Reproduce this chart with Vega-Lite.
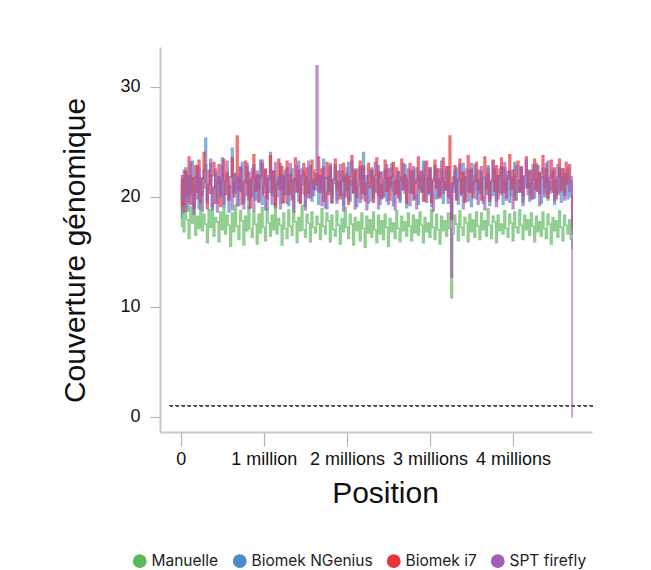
{
  "$schema": "https://vega.github.io/schema/vega-lite/v6.json",
  "width": 432,
  "height": 385,
  "autosize": {"type": "none"},
  "padding": {"left": 160, "top": 47, "right": 59, "bottom": 138},
  "background": "white",
  "config": {
    "view": {"stroke": null},
    "font": "Liberation Sans",
    "axis": {"grid": false, "domainColor": "#c8c8c8", "domainWidth": 2, "tickColor": "#b4b4b4", "tickWidth": 1.2, "labelFont": "Liberation Sans", "labelFontSize": 18, "labelColor": "#111", "titleFont": "Liberation Sans", "titleFontSize": 30, "titleFontWeight": "normal", "titleColor": "#111"}
  },
  "data": {"values": [
{"x":0,"M":17.3,"N":18.1,"I":19.2,"S":19.6},
{"x":20000,"M":19.4,"N":21.5,"I":21.9,"S":20.8},
{"x":40000,"M":16.8,"N":19.3,"I":18.6,"S":22.4},
{"x":60000,"M":18.7,"N":22.6,"I":22.3,"S":18.9},
{"x":80000,"M":17.9,"N":18.7,"I":20.1,"S":21.7},
{"x":100000,"M":16.2,"N":21.9,"I":23.6,"S":19.5},
{"x":120000,"M":19.1,"N":20.4,"I":19.3,"S":23.1},
{"x":140000,"M":17.6,"N":23.2,"I":21.7,"S":20.2},
{"x":160000,"M":18.9,"N":19.0,"I":18.9,"S":18.4},
{"x":180000,"M":16.5,"N":21.3,"I":22.8,"S":21.9},
{"x":200000,"M":18.2,"N":22.8,"I":20.4,"S":19.8},
{"x":220000,"M":17.1,"N":18.9,"I":23.3,"S":22.6},
{"x":240000,"M":19.6,"N":21.7,"I":19.5,"S":20.5},
{"x":260000,"M":16.9,"N":20.1,"I":21.6,"S":18.7},
{"x":280000,"M":18.4,"N":22.4,"I":24.0,"S":21.3},
{"x":300000,"M":17.5,"N":25.3,"I":20.8,"S":22.9},
{"x":320000,"M":15.8,"N":19.6,"I":18.9,"S":19.4},
{"x":340000,"M":18.8,"N":21.1,"I":22.4,"S":21.1},
{"x":360000,"M":17.2,"N":23.0,"I":20.3,"S":23.4},
{"x":380000,"M":19.3,"N":18.8,"I":21.9,"S":19.1},
{"x":400000,"M":16.4,"N":20.9,"I":23.1,"S":20.7},
{"x":420000,"M":18.1,"N":22.5,"I":19.4,"S":22.2},
{"x":440000,"M":17.7,"N":19.4,"I":21.2,"S":18.6},
{"x":460000,"M":15.9,"N":21.8,"I":22.9,"S":21.6},
{"x":480000,"M":18.6,"N":20.2,"I":19.1,"S":20.0},
{"x":500000,"M":17.0,"N":23.5,"I":21.5,"S":22.8},
{"x":520000,"M":19.0,"N":19.1,"I":23.4,"S":19.3},
{"x":540000,"M":16.6,"N":21.4,"I":20.2,"S":21.4},
{"x":560000,"M":18.3,"N":22.2,"I":22.1,"S":23.2},
{"x":580000,"M":17.4,"N":18.6,"I":19.7,"S":19.8},
{"x":600000,"M":15.5,"N":21.0,"I":21.8,"S":20.9},
{"x":620000,"M":18.5,"N":24.4,"I":23.5,"S":18.8},
{"x":640000,"M":16.8,"N":20.3,"I":20.0,"S":22.1},
{"x":660000,"M":19.2,"N":22.1,"I":21.3,"S":20.3},
{"x":680000,"M":17.3,"N":19.2,"I":25.5,"S":21.8},
{"x":700000,"M":16.1,"N":21.6,"I":20.7,"S":19.2},
{"x":720000,"M":18.7,"N":20.5,"I":22.6,"S":22.7},
{"x":740000,"M":17.8,"N":23.1,"I":19.3,"S":20.6},
{"x":760000,"M":15.6,"N":19.5,"I":21.4,"S":18.9},
{"x":780000,"M":18.2,"N":21.2,"I":23.2,"S":21.5},
{"x":800000,"M":16.9,"N":22.7,"I":20.1,"S":23.0},
{"x":820000,"M":19.1,"N":18.9,"I":22.2,"S":19.7},
{"x":840000,"M":17.1,"N":21.5,"I":19.0,"S":21.2},
{"x":860000,"M":16.3,"N":20.0,"I":21.7,"S":22.5},
{"x":880000,"M":18.6,"N":22.9,"I":23.8,"S":18.7},
{"x":900000,"M":17.5,"N":19.7,"I":20.5,"S":20.8},
{"x":920000,"M":15.7,"N":21.8,"I":22.0,"S":22.3},
{"x":940000,"M":18.4,"N":20.6,"I":19.6,"S":19.5},
{"x":960000,"M":16.7,"N":23.3,"I":21.9,"S":21.7},
{"x":980000,"M":19.0,"N":19.3,"I":23.0,"S":23.3},
{"x":1000000,"M":17.2,"N":21.0,"I":20.3,"S":20.1},
{"x":1020000,"M":16.0,"N":22.4,"I":22.5,"S":18.8},
{"x":1040000,"M":18.9,"N":18.8,"I":19.8,"S":21.9},
{"x":1060000,"M":17.6,"N":21.7,"I":21.6,"S":20.4},
{"x":1080000,"M":16.4,"N":24.0,"I":23.7,"S":22.6},
{"x":1100000,"M":18.3,"N":20.1,"I":20.4,"S":19.3},
{"x":1120000,"M":17.0,"N":22.3,"I":22.3,"S":21.4},
{"x":1140000,"M":19.4,"N":19.0,"I":19.2,"S":23.1},
{"x":1160000,"M":16.6,"N":21.4,"I":21.1,"S":20.0},
{"x":1180000,"M":18.0,"N":20.7,"I":23.4,"S":21.8},
{"x":1200000,"M":17.4,"N":23.0,"I":20.6,"S":18.9},
{"x":1220000,"M":15.6,"N":19.4,"I":22.7,"S":22.0},
{"x":1240000,"M":18.5,"N":21.9,"I":19.5,"S":20.6},
{"x":1260000,"M":17.1,"N":20.2,"I":21.8,"S":22.4},
{"x":1280000,"M":16.2,"N":22.6,"I":23.2,"S":19.4},
{"x":1300000,"M":18.8,"N":19.2,"I":20.2,"S":21.3},
{"x":1320000,"M":17.3,"N":21.3,"I":22.0,"S":23.0},
{"x":1340000,"M":16.5,"N":22.5,"I":19.7,"S":20.2},
{"x":1360000,"M":18.7,"N":18.9,"I":21.5,"S":18.6},
{"x":1380000,"M":17.7,"N":21.6,"I":23.5,"S":21.7},
{"x":1400000,"M":15.8,"N":20.4,"I":20.5,"S":22.8},
{"x":1420000,"M":18.1,"N":23.2,"I":22.4,"S":19.6},
{"x":1440000,"M":16.9,"N":19.5,"I":19.4,"S":21.1},
{"x":1460000,"M":19.2,"N":21.1,"I":21.9,"S":22.5},
{"x":1480000,"M":17.0,"N":22.2,"I":23.0,"S":20.3},
{"x":1500000,"M":16.3,"N":19.1,"I":20.1,"S":18.8},
{"x":1520000,"M":18.4,"N":21.8,"I":22.6,"S":21.6},
{"x":1540000,"M":17.6,"N":20.3,"I":19.9,"S":23.2},
{"x":1560000,"M":15.9,"N":22.8,"I":21.3,"S":19.9},
{"x":1580000,"M":18.6,"N":19.6,"I":23.3,"S":21.4},
{"x":1600000,"M":17.2,"N":21.5,"I":20.7,"S":20.1},
{"x":1620000,"M":16.7,"N":20.6,"I":22.2,"S":22.4},
{"x":1640000,"M":18.2,"N":22.0,"I":21.1,"S":31.9},
{"x":1660000,"M":17.5,"N":19.3,"I":23.6,"S":20.5},
{"x":1680000,"M":16.1,"N":21.9,"I":20.4,"S":21.9},
{"x":1700000,"M":18.9,"N":20.7,"I":22.5,"S":19.2},
{"x":1720000,"M":17.3,"N":23.4,"I":19.6,"S":22.7},
{"x":1740000,"M":16.6,"N":19.0,"I":21.7,"S":20.4},
{"x":1760000,"M":18.5,"N":21.7,"I":23.1,"S":18.9},
{"x":1780000,"M":17.8,"N":20.5,"I":20.2,"S":21.8},
{"x":1800000,"M":15.9,"N":22.6,"I":22.8,"S":23.0},
{"x":1820000,"M":18.3,"N":19.4,"I":19.5,"S":20.0},
{"x":1840000,"M":17.0,"N":21.2,"I":21.6,"S":21.5},
{"x":1860000,"M":16.4,"N":22.9,"I":23.4,"S":22.3},
{"x":1880000,"M":18.7,"N":19.7,"I":20.6,"S":19.4},
{"x":1900000,"M":17.4,"N":21.4,"I":22.3,"S":21.2},
{"x":1920000,"M":15.7,"N":20.1,"I":19.8,"S":22.9},
{"x":1940000,"M":18.0,"N":22.3,"I":21.4,"S":20.3},
{"x":1960000,"M":16.8,"N":19.2,"I":23.0,"S":18.7},
{"x":1980000,"M":19.0,"N":21.8,"I":20.0,"S":21.9},
{"x":2000000,"M":17.2,"N":20.6,"I":22.1,"S":22.6},
{"x":2020000,"M":16.2,"N":23.1,"I":19.3,"S":19.8},
{"x":2040000,"M":18.4,"N":19.6,"I":21.8,"S":21.0},
{"x":2060000,"M":17.5,"N":21.5,"I":23.7,"S":23.2},
{"x":2080000,"M":15.6,"N":20.3,"I":20.4,"S":20.6},
{"x":2100000,"M":18.1,"N":22.5,"I":22.4,"S":18.9},
{"x":2120000,"M":16.9,"N":19.1,"I":19.9,"S":21.7},
{"x":2140000,"M":17.7,"N":21.0,"I":21.5,"S":22.5},
{"x":2160000,"M":16.0,"N":22.7,"I":23.2,"S":19.5},
{"x":2180000,"M":18.5,"N":19.8,"I":20.3,"S":21.3},
{"x":2200000,"M":17.1,"N":24.0,"I":22.7,"S":22.8},
{"x":2220000,"M":15.4,"N":20.2,"I":19.6,"S":20.2},
{"x":2240000,"M":18.2,"N":21.9,"I":21.2,"S":18.8},
{"x":2260000,"M":16.7,"N":19.4,"I":23.0,"S":21.9},
{"x":2280000,"M":17.9,"N":21.3,"I":20.8,"S":22.4},
{"x":2300000,"M":16.3,"N":22.6,"I":22.4,"S":19.6},
{"x":2320000,"M":18.6,"N":19.9,"I":19.5,"S":21.5},
{"x":2340000,"M":17.0,"N":21.6,"I":21.9,"S":23.1},
{"x":2360000,"M":15.8,"N":20.4,"I":23.5,"S":20.4},
{"x":2380000,"M":18.3,"N":22.8,"I":20.1,"S":18.9},
{"x":2400000,"M":16.6,"N":19.3,"I":22.2,"S":21.8},
{"x":2420000,"M":17.8,"N":21.1,"I":19.8,"S":22.2},
{"x":2440000,"M":16.1,"N":20.0,"I":21.6,"S":20.0},
{"x":2460000,"M":18.4,"N":22.4,"I":23.3,"S":21.4},
{"x":2480000,"M":17.2,"N":19.6,"I":20.5,"S":22.9},
{"x":2500000,"M":15.5,"N":21.7,"I":22.5,"S":19.3},
{"x":2520000,"M":18.0,"N":20.8,"I":19.7,"S":21.1},
{"x":2540000,"M":16.8,"N":23.0,"I":21.8,"S":22.6},
{"x":2560000,"M":17.6,"N":19.2,"I":23.1,"S":20.5},
{"x":2580000,"M":16.2,"N":21.4,"I":20.2,"S":18.8},
{"x":2600000,"M":18.7,"N":20.3,"I":22.6,"S":21.7},
{"x":2620000,"M":17.1,"N":22.2,"I":19.9,"S":22.3},
{"x":2640000,"M":15.9,"N":19.5,"I":21.4,"S":19.7},
{"x":2660000,"M":18.2,"N":21.8,"I":23.4,"S":21.2},
{"x":2680000,"M":16.9,"N":20.7,"I":20.6,"S":23.0},
{"x":2700000,"M":17.7,"N":22.9,"I":22.0,"S":20.3},
{"x":2720000,"M":16.4,"N":19.0,"I":19.4,"S":21.8},
{"x":2740000,"M":18.5,"N":21.5,"I":21.7,"S":22.5},
{"x":2760000,"M":17.3,"N":20.4,"I":23.0,"S":19.2},
{"x":2780000,"M":16.0,"N":22.3,"I":20.3,"S":21.4},
{"x":2800000,"M":18.3,"N":19.7,"I":22.4,"S":22.7},
{"x":2820000,"M":16.7,"N":21.2,"I":19.8,"S":20.1},
{"x":2840000,"M":17.9,"N":22.6,"I":21.5,"S":18.9},
{"x":2860000,"M":16.5,"N":19.3,"I":23.6,"S":21.6},
{"x":2880000,"M":18.6,"N":21.9,"I":20.7,"S":22.2},
{"x":2900000,"M":17.4,"N":20.5,"I":22.3,"S":20.4},
{"x":2920000,"M":15.8,"N":23.2,"I":19.6,"S":21.9},
{"x":2940000,"M":18.1,"N":19.6,"I":21.9,"S":23.1},
{"x":2960000,"M":16.8,"N":21.7,"I":23.2,"S":19.5},
{"x":2980000,"M":17.6,"N":20.2,"I":20.4,"S":21.3},
{"x":3000000,"M":16.3,"N":22.4,"I":22.6,"S":22.6},
{"x":3020000,"M":18.8,"N":19.1,"I":19.5,"S":20.2},
{"x":3040000,"M":17.2,"N":21.4,"I":21.6,"S":18.7},
{"x":3060000,"M":16.1,"N":22.8,"I":23.3,"S":21.8},
{"x":3080000,"M":18.4,"N":19.8,"I":20.8,"S":22.5},
{"x":3100000,"M":17.0,"N":21.6,"I":22.5,"S":19.9},
{"x":3120000,"M":15.7,"N":20.1,"I":19.9,"S":21.5},
{"x":3140000,"M":18.2,"N":22.5,"I":21.4,"S":23.2},
{"x":3160000,"M":16.9,"N":19.4,"I":23.5,"S":20.3},
{"x":3180000,"M":17.8,"N":21.3,"I":20.6,"S":21.7},
{"x":3200000,"M":16.4,"N":20.6,"I":22.7,"S":22.4},
{"x":3220000,"M":18.5,"N":22.7,"I":20.0,"S":19.4},
{"x":3240000,"M":17.1,"N":19.9,"I":25.5,"S":21.1},
{"x":3260000,"M":10.8,"N":18.0,"I":17.9,"S":12.7},
{"x":3280000,"M":16.6,"N":21.8,"I":21.2,"S":20.8},
{"x":3300000,"M":18.3,"N":20.4,"I":22.8,"S":22.3},
{"x":3320000,"M":17.5,"N":22.6,"I":19.7,"S":19.8},
{"x":3340000,"M":16.0,"N":19.3,"I":21.6,"S":21.4},
{"x":3360000,"M":18.7,"N":21.5,"I":23.4,"S":22.9},
{"x":3380000,"M":17.2,"N":20.2,"I":20.3,"S":20.1},
{"x":3400000,"M":16.5,"N":23.0,"I":22.2,"S":18.9},
{"x":3420000,"M":18.1,"N":19.6,"I":19.5,"S":21.6},
{"x":3440000,"M":17.6,"N":21.7,"I":21.8,"S":22.5},
{"x":3460000,"M":15.9,"N":20.5,"I":23.7,"S":19.6},
{"x":3480000,"M":18.4,"N":22.4,"I":20.4,"S":21.2},
{"x":3500000,"M":16.8,"N":19.1,"I":22.5,"S":23.0},
{"x":3520000,"M":17.9,"N":21.2,"I":19.9,"S":20.4},
{"x":3540000,"M":16.3,"N":22.9,"I":21.3,"S":21.9},
{"x":3560000,"M":18.6,"N":19.8,"I":23.1,"S":22.4},
{"x":3580000,"M":17.3,"N":21.5,"I":20.6,"S":19.3},
{"x":3600000,"M":16.1,"N":20.3,"I":22.4,"S":21.5},
{"x":3620000,"M":18.5,"N":22.2,"I":19.7,"S":22.7},
{"x":3640000,"M":17.0,"N":19.4,"I":21.7,"S":20.0},
{"x":3660000,"M":17.8,"N":21.6,"I":23.6,"S":18.8},
{"x":3680000,"M":16.4,"N":20.7,"I":20.2,"S":21.8},
{"x":3700000,"M":18.9,"N":22.8,"I":22.1,"S":22.6},
{"x":3720000,"M":17.4,"N":19.2,"I":19.6,"S":19.9},
{"x":3740000,"M":16.2,"N":21.3,"I":21.5,"S":21.3},
{"x":3760000,"M":18.2,"N":20.1,"I":23.3,"S":23.2},
{"x":3780000,"M":17.7,"N":22.5,"I":20.5,"S":20.6},
{"x":3800000,"M":15.8,"N":19.6,"I":22.8,"S":19.1},
{"x":3820000,"M":18.3,"N":21.9,"I":19.8,"S":21.7},
{"x":3840000,"M":16.9,"N":20.4,"I":21.9,"S":22.5},
{"x":3860000,"M":17.5,"N":22.7,"I":23.5,"S":20.2},
{"x":3880000,"M":16.6,"N":19.3,"I":20.4,"S":21.4},
{"x":3900000,"M":18.7,"N":21.4,"I":22.6,"S":23.1},
{"x":3920000,"M":17.1,"N":20.6,"I":19.9,"S":19.7},
{"x":3940000,"M":16.3,"N":22.3,"I":21.6,"S":21.9},
{"x":3960000,"M":18.4,"N":19.5,"I":23.8,"S":22.3},
{"x":3980000,"M":17.6,"N":21.8,"I":20.7,"S":20.1},
{"x":4000000,"M":16.0,"N":20.2,"I":22.4,"S":18.9},
{"x":4020000,"M":18.6,"N":23.1,"I":19.7,"S":21.6},
{"x":4040000,"M":17.2,"N":19.7,"I":21.8,"S":22.8},
{"x":4060000,"M":16.7,"N":21.5,"I":23.2,"S":20.4},
{"x":4080000,"M":18.8,"N":20.4,"I":20.5,"S":21.2},
{"x":4100000,"M":17.4,"N":22.6,"I":22.7,"S":22.6},
{"x":4120000,"M":16.1,"N":19.2,"I":20.1,"S":19.5},
{"x":4140000,"M":18.3,"N":21.7,"I":21.9,"S":21.8},
{"x":4160000,"M":17.0,"N":20.8,"I":23.6,"S":23.3},
{"x":4180000,"M":17.9,"N":22.4,"I":20.8,"S":20.2},
{"x":4200000,"M":16.5,"N":19.6,"I":22.3,"S":21.5},
{"x":4220000,"M":18.5,"N":21.2,"I":19.8,"S":22.4},
{"x":4240000,"M":17.3,"N":22.9,"I":21.5,"S":19.8},
{"x":4260000,"M":15.9,"N":19.9,"I":23.4,"S":21.3},
{"x":4280000,"M":18.2,"N":21.6,"I":20.6,"S":23.0},
{"x":4300000,"M":16.8,"N":20.5,"I":22.8,"S":20.5},
{"x":4320000,"M":17.7,"N":22.2,"I":20.3,"S":19.2},
{"x":4340000,"M":16.4,"N":19.4,"I":22.1,"S":21.7},
{"x":4360000,"M":18.6,"N":21.8,"I":23.7,"S":22.6},
{"x":4380000,"M":17.1,"N":20.3,"I":20.9,"S":20.0},
{"x":4400000,"M":16.2,"N":23.0,"I":22.5,"S":21.4},
{"x":4420000,"M":18.4,"N":19.7,"I":19.9,"S":23.2},
{"x":4440000,"M":17.5,"N":21.4,"I":21.7,"S":20.3},
{"x":4460000,"M":15.7,"N":20.6,"I":23.3,"S":21.9},
{"x":4480000,"M":18.1,"N":22.3,"I":20.4,"S":22.4},
{"x":4500000,"M":16.9,"N":19.3,"I":22.6,"S":19.6},
{"x":4520000,"M":17.8,"N":21.5,"I":19.8,"S":21.3},
{"x":4540000,"M":16.3,"N":20.2,"I":21.8,"S":22.9},
{"x":4560000,"M":18.7,"N":22.6,"I":23.4,"S":20.4},
{"x":4580000,"M":17.2,"N":19.5,"I":20.6,"S":21.8},
{"x":4600000,"M":16.0,"N":21.7,"I":22.5,"S":22.5},
{"x":4620000,"M":18.3,"N":20.4,"I":20.1,"S":19.7},
{"x":4640000,"M":17.4,"N":22.1,"I":23.1,"S":21.1},
{"x":4660000,"M":16.6,"N":19.8,"I":21.2,"S":22.6},
{"x":4680000,"M":17.9,"N":21.3,"I":22.9,"S":20.5},
{"x":4700000,"M":16.1,"N":20.0,"I":21.4,"S":21.8},
{"x":4720000,"M":15.3,"N":17.2,"I":16.6,"S":0.0}
  ]},
  "layer": [
    {
      "transform": [
        {"fold": ["M", "N", "I", "S"], "as": ["key", "cov"]},
        {"calculate": "{'M':'Manuelle','N':'Biomek NGenius','I':'Biomek i7','S':'SPT firefly'}[datum.key]", "as": "serie"}
      ],
      "mark": {"type": "line", "interpolate": "step", "strokeWidth": 1.6, "opacity": 0.7},
      "encoding": {
        "x": {"field": "x", "type": "quantitative", "scale": {"domain": [-250000, 4950000], "nice": false, "zero": false},
          "axis": {"title": "Position", "values": [0, 1000000, 2000000, 3000000, 4000000], "labelExpr": "datum.value == 0 ? '0' : datum.value == 1000000 ? '1 million' : format(datum.value / 1000000, 'd') + ' millions'", "labelOverlap": false, "labelFlush": false, "tickSize": 14, "labelPadding": 4, "titlePadding": 10, "titleX": 225}},
        "y": {"field": "cov", "type": "quantitative", "scale": {"domain": [-1.4, 33.6], "nice": false, "zero": false},
          "axis": {"title": "Couverture génomique", "values": [0, 10, 20, 30], "tickSize": 10, "labelPadding": 10, "titlePadding": 29, "titleY": 203}},
        "color": {"field": "serie", "type": "nominal",
          "scale": {"domain": ["Manuelle", "Biomek NGenius", "Biomek i7", "SPT firefly"], "range": ["#5cb85c", "#4b8bc6", "#e6323a", "#a05eb5"]},
          "legend": {"title": null, "orient": "none", "direction": "horizontal", "legendX": -28, "legendY": 506, "symbolType": "circle", "symbolSize": 190, "symbolStrokeWidth": 0, "symbolOpacity": 1, "labelFont": "Inter", "labelFontSize": 15.5, "labelColor": "#222", "columnPadding": 13, "labelOffset": 4,
            "encode": {"symbols": {"update": {"fill": {"scale": "color", "field": "value"}, "fillOpacity": {"value": 1}}}}}}
      }
    },
    {
      "mark": {"type": "rule", "strokeDash": [3, 3], "color": "#555", "strokeWidth": 1.3},
      "encoding": {"y": {"datum": 1, "type": "quantitative"}, "x": {"datum": -130000, "type": "quantitative"}, "x2": {"datum": 4990000}}
    }
  ]
}
